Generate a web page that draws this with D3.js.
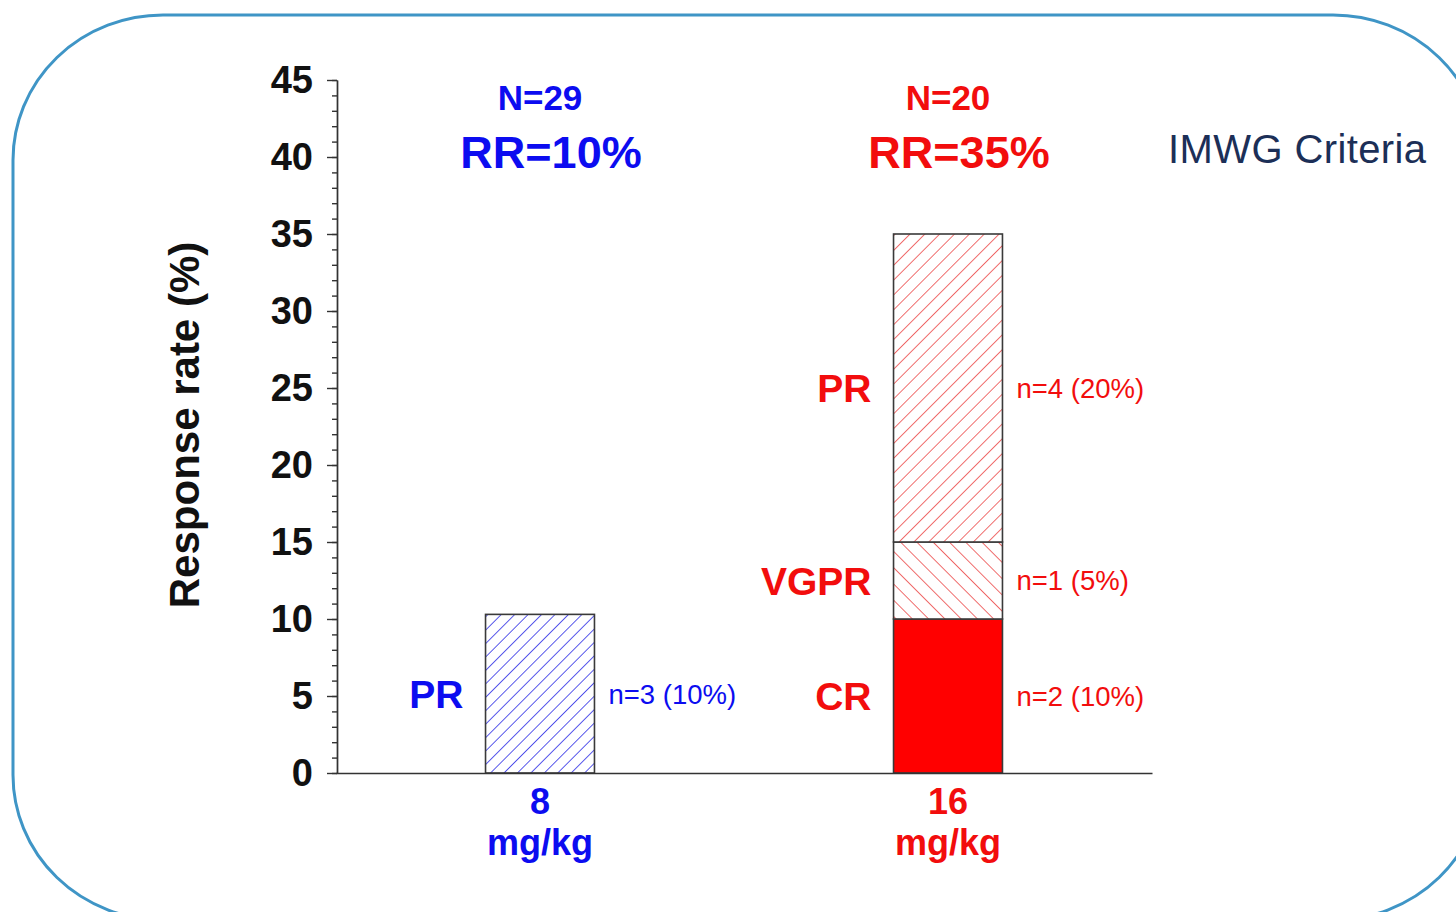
<!DOCTYPE html>
<html>
<head>
<meta charset="utf-8">
<script src="https://cdn.jsdelivr.net/npm/d3@7"></script>
<style>
  html, body { margin: 0; padding: 0; background: #fff; }
  svg { display: block; font-family: "Liberation Sans", Arial, sans-serif; }
</style>
</head>
<body>
<svg id="chart" width="1456" height="912"></svg>
<script>
// dose groups
const doses = ["8", "16"];
const doseUnit = "mg/kg";
const groupN = [29, 20];
const groupRR = [10, 35];
const groupColors = ["#0c0cf0", "#f20d0d"];

// response categories, stacked bottom -> top
const responseTypes = ["CR", "VGPR", "PR"];
const pct8 = [0, 0, 10.3];
const pct16 = [10, 5, 20];
const count8 = [0, 0, 3];
const count16 = [2, 1, 4];
const pctLabel8 = ["", "", "10%"];
const pctLabel16 = ["10%", "5%", "20%"];

const yTicks = [0, 5, 10, 15, 20, 25, 30, 35, 40, 45];

const svg = d3.select("#chart");

// rounded frame
svg.append("rect")
  .attr("x", 13).attr("y", 15)
  .attr("width", 1470).attr("height", 905)
  .attr("rx", 150).attr("ry", 145)
  .attr("fill", "none")
  .attr("stroke", "#3f95c6")
  .attr("stroke-width", 3);

// hatch patterns
const defs = svg.append("defs");
function hatch(id, color, angle, gap) {
  const p = defs.append("pattern")
    .attr("id", id)
    .attr("patternUnits", "userSpaceOnUse")
    .attr("width", gap).attr("height", gap)
    .attr("patternTransform", "rotate(" + angle + ")");
  p.append("rect").attr("width", gap).attr("height", gap).attr("fill", "#fff");
  p.append("line")
    .attr("x1", 0).attr("y1", 0).attr("x2", 0).attr("y2", gap)
    .attr("stroke", color).attr("stroke-width", 1.7);
}
hatch("hBlue", "#3c3ce8", 45, 9.5);
hatch("hRedUp", "#ee5555", 45, 10.5);
hatch("hRedDown", "#ee5555", -45, 11.5);

const fills = [
  { CR: "#ff0000", VGPR: "url(#hRedDown)", PR: "url(#hBlue)" },
  { CR: "#ff0000", VGPR: "url(#hRedDown)", PR: "url(#hRedUp)" }
];

const x = d3.scaleBand()
  .domain(doses)
  .range([336, 1152])
  .paddingInner(0.733)
  .paddingOuter(0.3665);

const y = d3.scaleLinear().domain([0, 45]).range([773, 80]);

// build stacked rows
const rows = doses.map((d, i) => {
  const pct = i === 0 ? pct8 : pct16;
  const row = { dose: d };
  responseTypes.forEach((t, j) => row[t] = pct[j]);
  return row;
});
const series = d3.stack().keys(responseTypes)(rows);

series.forEach((s, j) => {
  s.forEach((seg, i) => {
    const v = seg[1] - seg[0];
    if (v <= 0) return;
    const dose = doses[i];
    const col = groupColors[i];
    const counts = i === 0 ? count8 : count16;
    const labs = i === 0 ? pctLabel8 : pctLabel16;
    svg.append("rect")
      .attr("x", x(dose))
      .attr("y", y(seg[1]))
      .attr("width", x.bandwidth())
      .attr("height", y(seg[0]) - y(seg[1]))
      .attr("fill", fills[i][s.key])
      .attr("stroke", "#3a3a3a")
      .attr("stroke-width", 1.6);
    const my = y((seg[0] + seg[1]) / 2);
    svg.append("text")
      .attr("x", x(dose) - 22)
      .attr("y", my)
      .attr("dy", "0.36em")
      .attr("text-anchor", "end")
      .attr("font-weight", "bold")
      .attr("font-size", 39)
      .attr("fill", col)
      .text(s.key);
    svg.append("text")
      .attr("x", x(dose) + x.bandwidth() + 14)
      .attr("y", my)
      .attr("dy", "0.36em")
      .attr("font-size", 27.5)
      .attr("fill", col)
      .text("n=" + counts[j] + " (" + labs[j] + ")");
  });
});

// y axis: minor then major ticks
svg.append("g")
  .attr("transform", "translate(337,0)")
  .call(d3.axisLeft(y).tickValues(d3.range(0, 46)).tickSize(5).tickSizeOuter(0).tickFormat(""));
const major = svg.append("g")
  .attr("transform", "translate(337,0)")
  .call(d3.axisLeft(y).tickValues(yTicks).tickSize(10).tickSizeOuter(0).tickPadding(14));
svg.selectAll(".domain, .tick line").attr("stroke", "#333").attr("stroke-width", 1.4);
major.selectAll("text")
  .attr("font-size", 38)
  .attr("font-weight", "bold")
  .attr("font-family", "Liberation Sans, Arial, sans-serif")
  .attr("fill", "#111");

// baseline
svg.append("g")
  .attr("transform", "translate(0,773)")
  .call(d3.axisBottom(x).tickSize(0).tickSizeOuter(0).tickFormat(""))
  .select(".domain").attr("stroke", "#333").attr("stroke-width", 1.6);

// x labels (two lines) and group headers
doses.forEach((d, i) => {
  const cx = x(d) + x.bandwidth() / 2;
  const lbl = svg.append("text")
    .attr("text-anchor", "middle")
    .attr("font-weight", "bold")
    .attr("font-size", 36)
    .attr("fill", groupColors[i]);
  lbl.append("tspan").attr("x", cx).attr("y", 814).text(d);
  lbl.append("tspan").attr("x", cx).attr("y", 855).text(doseUnit);

  svg.append("text")
    .attr("x", cx).attr("y", 110)
    .attr("text-anchor", "middle")
    .attr("font-weight", "bold")
    .attr("font-size", 35)
    .attr("fill", groupColors[i])
    .text("N=" + groupN[i]);
  svg.append("text")
    .attr("x", cx + 11).attr("y", 168)
    .attr("text-anchor", "middle")
    .attr("font-weight", "bold")
    .attr("font-size", 45)
    .attr("fill", groupColors[i])
    .text("RR=" + groupRR[i] + "%");
});

// y title
svg.append("text")
  .attr("transform", "translate(199,425) rotate(-90)")
  .attr("text-anchor", "middle")
  .attr("font-weight", "bold")
  .attr("font-size", 42)
  .attr("fill", "#111")
  .text("Response rate (%)");

svg.append("text")
  .attr("x", 1168).attr("y", 163)
  .attr("font-size", 40)
  .attr("letter-spacing", 0.4)
  .attr("fill", "#1c2f57")
  .text("IMWG Criteria");
</script>
</body>
</html>
